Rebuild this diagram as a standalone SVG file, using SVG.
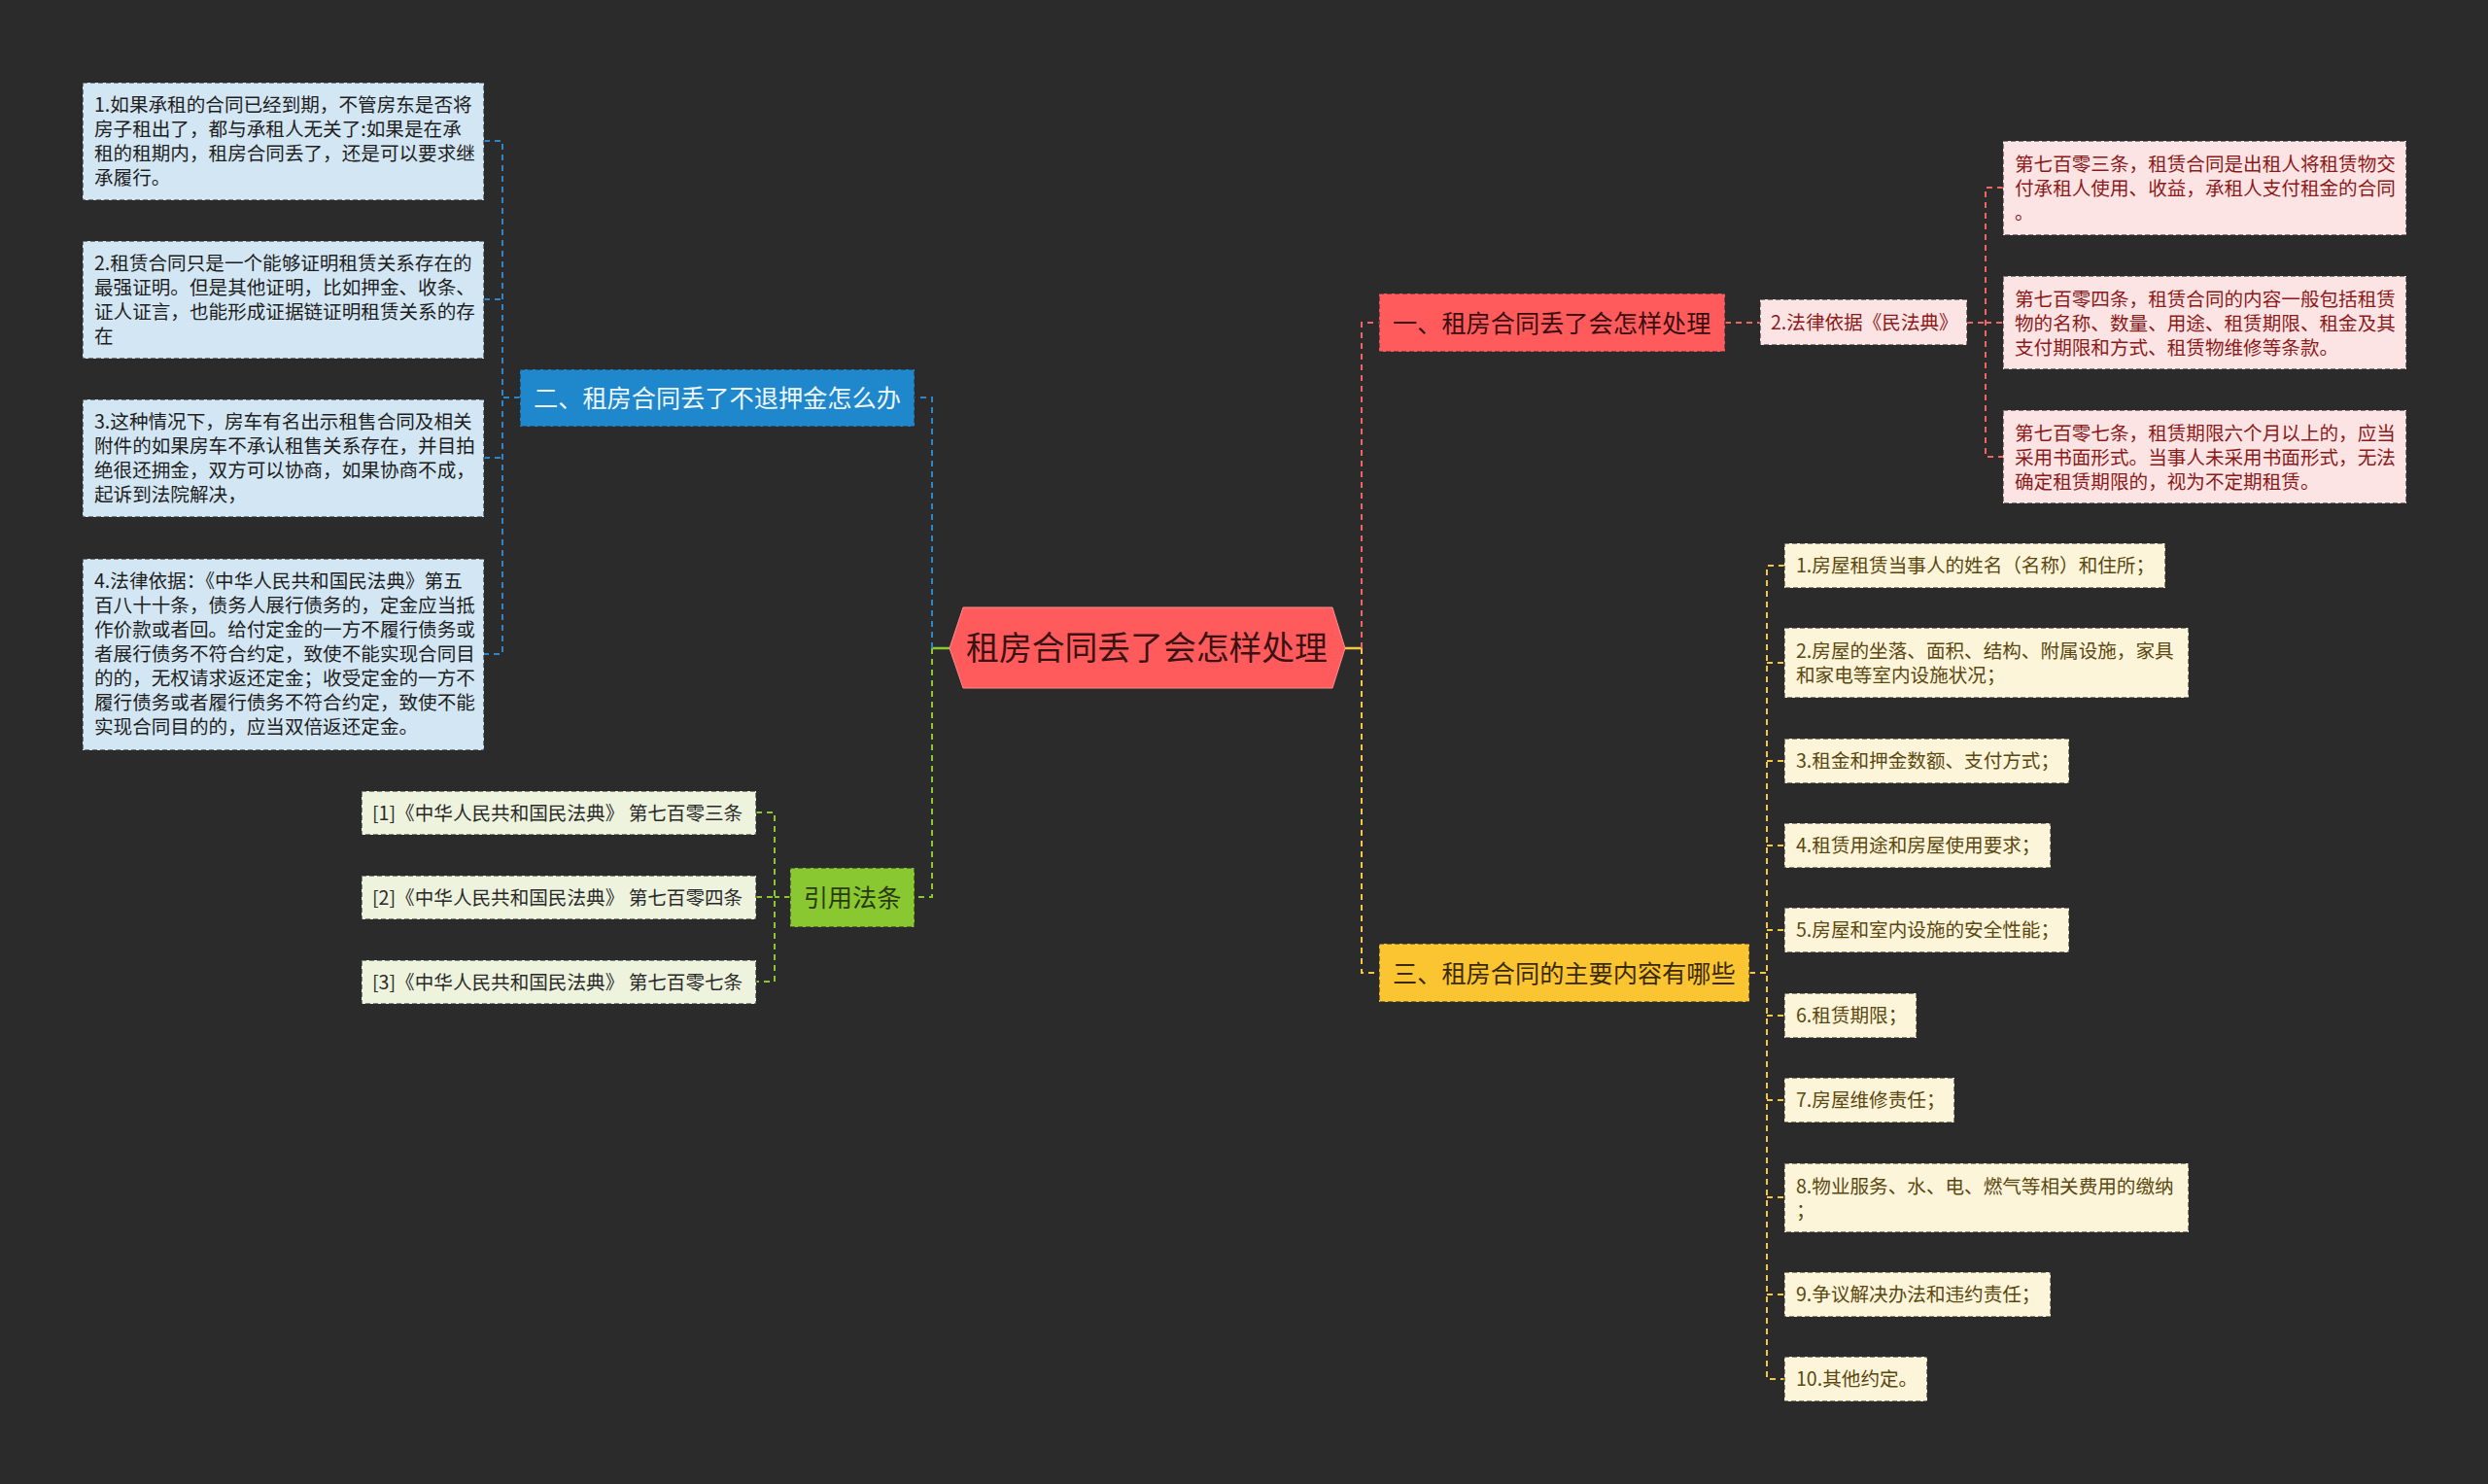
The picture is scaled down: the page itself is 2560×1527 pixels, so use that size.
<svg xmlns="http://www.w3.org/2000/svg" width="2560" height="1527" viewBox="0 0 2560 1527">
<style>
text{font-family:"Noto Sans CJK SC","Noto Sans",sans-serif;}
.s{font-size:19.6px;}
.m{font-size:25.2px;}
.c{font-size:33.8px;fill:#3a1212;}
.bd{stroke:#2b2b2b;stroke-opacity:0.75;stroke-width:1.5;stroke-dasharray:5 3;}
.blue{fill:#d3e6f3;} .tblue{fill:#1e1e1e;}
.grn{fill:#edf3dd;} .tgrn{fill:#2a2a2a;}
.pink{fill:#fde4e4;} .tpink{fill:#8b1a1a;}
.yel{fill:#fdf5da;} .tyel{fill:#5a4810;}
.cn{fill:none;stroke-width:2;stroke-dasharray:6 5;}
.cb{stroke:#2f86c6;} .cg{stroke:#8ac832;} .cr{stroke:#f06464;} .cy{stroke:#f5c842;}
</style>
<rect x="0" y="0" width="2560" height="1527" fill="#2b2b2b"/>

<g id="connectors">
  <line x1="959" y1="667" x2="977" y2="667" stroke="#8ac832" stroke-width="2.5"/>
  <line x1="1384" y1="667" x2="1401" y2="667" stroke="#f5c842" stroke-width="2.5"/>
  <path class="cn cb" d="M959,667 V409 H941"/>
  <path class="cn cb" d="M535,409 H517 M498,145 H517 V673 H498 M498,308 H517 M498,471 H517"/>
  <path class="cn cg" d="M959,667 V923 H941"/>
  <path class="cn cg" d="M813,923 H797 M778,836 H797 V1010 H778 M778,923 H797"/>
  <path class="cn cr" d="M1401,667 V332 H1419"/>
  <path class="cn cr" d="M1775,332 H1811 M2024,332 H2043 M2061,193 H2043 V470 H2061 M2043,332 H2061"/>
  <path class="cn cy" d="M1401,667 V1001 H1419"/>
  <path class="cn cy" d="M1800,1001 H1818 M1836,582 H1818 V1419 H1836 M1818,682 H1836 M1818,783 H1836 M1818,870 H1836 M1818,957 H1836 M1818,1045 H1836 M1818,1132 H1836 M1818,1232 H1836 M1818,1332 H1836"/>
</g>

<g id="center">
  <polygon points="977,667 991,625 1371,625 1384,667 1371,708 991,708" fill="#ff5b5d" stroke="#ff8c8c" stroke-width="1"/>
  <text class="c" x="1180" y="679" text-anchor="middle">租房合同丢了会怎样处理</text>
</g>

<g id="n2">
  <rect x="535" y="380" width="406" height="59" fill="#1f87cb" class="bd"/>
  <text class="m" x="549" y="419" fill="#eef6ff">二、租房合同丢了不退押金怎么办</text>
</g>
<g id="n2-1">
  <rect x="85" y="85" width="413" height="121" class="blue bd"/>
  <text class="s tblue" x="97"><tspan x="97" y="115">1.如果承租的合同已经到期，不管房东是否将</tspan><tspan x="97" y="140">房子租出了，都与承租人无关了:如果是在承</tspan><tspan x="97" y="165">租的租期内，租房合同丢了，还是可以要求继</tspan><tspan x="97" y="190">承履行。</tspan></text>
</g>
<g id="n2-2">
  <rect x="85" y="248" width="413" height="121" class="blue bd"/>
  <text class="s tblue"><tspan x="97" y="278">2.租赁合同只是一个能够证明租赁关系存在的</tspan><tspan x="97" y="303">最强证明。但是其他证明，比如押金、收条、</tspan><tspan x="97" y="328">证人证言，也能形成证据链证明租赁关系的存</tspan><tspan x="97" y="353">在</tspan></text>
</g>
<g id="n2-3">
  <rect x="85" y="411" width="413" height="121" class="blue bd"/>
  <text class="s tblue"><tspan x="97" y="441">3.这种情况下，房车有名出示租售合同及相关</tspan><tspan x="97" y="466">附件的如果房车不承认租售关系存在，并目拍</tspan><tspan x="97" y="491">绝很还拥金，双方可以协商，如果协商不成，</tspan><tspan x="97" y="516">起诉到法院解决，</tspan></text>
</g>
<g id="n2-4">
  <rect x="85" y="575" width="413" height="197" class="blue bd"/>
  <text class="s tblue"><tspan x="97" y="605">4.法律依据：《中华人民共和国民法典》第五</tspan><tspan x="97" y="630">百八十十条，债务人展行债务的，定金应当抵</tspan><tspan x="97" y="655">作价款或者回。给付定金的一方不履行债务或</tspan><tspan x="97" y="680">者展行债务不符合约定，致使不能实现合同目</tspan><tspan x="97" y="705">的的，无权请求返还定金；收受定金的一方不</tspan><tspan x="97" y="730">履行债务或者履行债务不符合约定，致使不能</tspan><tspan x="97" y="755">实现合同目的的，应当双倍返还定金。</tspan></text>
</g>

<g id="n4">
  <rect x="813" y="893" width="128" height="61" fill="#8ac832" class="bd"/>
  <text class="m" x="877" y="933" text-anchor="middle" fill="#2a3a10">引用法条</text>
</g>
<g id="n4-1">
  <rect x="372" y="814" width="406" height="45" class="grn bd"/>
  <text class="s tgrn" x="383" y="844">[1]《中华人民共和国民法典》 第七百零三条</text>
</g>
<g id="n4-2">
  <rect x="372" y="901" width="406" height="45" class="grn bd"/>
  <text class="s tgrn" x="383" y="931">[2]《中华人民共和国民法典》 第七百零四条</text>
</g>
<g id="n4-3">
  <rect x="372" y="988" width="406" height="45" class="grn bd"/>
  <text class="s tgrn" x="383" y="1018">[3]《中华人民共和国民法典》 第七百零七条</text>
</g>

<g id="n1">
  <rect x="1419" y="302" width="356" height="60" fill="#ff5b5d" class="bd"/>
  <text class="m" x="1433" y="342" fill="#3a0e0e">一、租房合同丢了会怎样处理</text>
</g>
<g id="n1-1">
  <rect x="1811" y="308" width="213" height="47" class="pink bd"/>
  <text class="s tpink" x="1822" y="339">2.法律依据《民法典》</text>
</g>
<g id="n1-1-1">
  <rect x="2061" y="145" width="415" height="97" class="pink bd"/>
  <text class="s tpink"><tspan x="2073" y="176">第七百零三条，租赁合同是出租人将租赁物交</tspan><tspan x="2073" y="201">付承租人使用、收益，承租人支付租金的合同</tspan><tspan x="2073" y="226">。</tspan></text>
</g>
<g id="n1-1-2">
  <rect x="2061" y="284" width="415" height="96" class="pink bd"/>
  <text class="s tpink"><tspan x="2073" y="315">第七百零四条，租赁合同的内容一般包括租赁</tspan><tspan x="2073" y="340">物的名称、数量、用途、租赁期限、租金及其</tspan><tspan x="2073" y="365">支付期限和方式、租赁物维修等条款。</tspan></text>
</g>
<g id="n1-1-3">
  <rect x="2061" y="422" width="415" height="96" class="pink bd"/>
  <text class="s tpink"><tspan x="2073" y="453">第七百零七条，租赁期限六个月以上的，应当</tspan><tspan x="2073" y="478">采用书面形式。当事人未采用书面形式，无法</tspan><tspan x="2073" y="503">确定租赁期限的，视为不定期租赁。</tspan></text>
</g>

<g id="n3">
  <rect x="1419" y="971" width="381" height="60" fill="#fbc532" class="bd"/>
  <text class="m" x="1433" y="1011" fill="#3a2a02">三、租房合同的主要内容有哪些</text>
</g>
<g id="n3-1"><rect x="1836" y="559" width="392" height="46" class="yel bd"/><text class="s tyel" x="1848" y="589">1.房屋租赁当事人的姓名（名称）和住所；</text></g>
<g id="n3-2"><rect x="1836" y="646" width="416" height="72" class="yel bd"/><text class="s tyel"><tspan x="1848" y="677">2.房屋的坐落、面积、结构、附属设施，家具</tspan><tspan x="1848" y="702">和家电等室内设施状况；</tspan></text></g>
<g id="n3-3"><rect x="1836" y="760" width="293" height="46" class="yel bd"/><text class="s tyel" x="1848" y="790">3.租金和押金数额、支付方式；</text></g>
<g id="n3-4"><rect x="1836" y="847" width="274" height="46" class="yel bd"/><text class="s tyel" x="1848" y="877">4.租赁用途和房屋使用要求；</text></g>
<g id="n3-5"><rect x="1836" y="934" width="293" height="46" class="yel bd"/><text class="s tyel" x="1848" y="964">5.房屋和室内设施的安全性能；</text></g>
<g id="n3-6"><rect x="1836" y="1022" width="136" height="46" class="yel bd"/><text class="s tyel" x="1848" y="1052">6.租赁期限；</text></g>
<g id="n3-7"><rect x="1836" y="1109" width="175" height="46" class="yel bd"/><text class="s tyel" x="1848" y="1139">7.房屋维修责任；</text></g>
<g id="n3-8"><rect x="1836" y="1197" width="416" height="71" class="yel bd"/><text class="s tyel"><tspan x="1848" y="1228">8.物业服务、水、电、燃气等相关费用的缴纳</tspan><tspan x="1848" y="1253">；</tspan></text></g>
<g id="n3-9"><rect x="1836" y="1309" width="274" height="46" class="yel bd"/><text class="s tyel" x="1848" y="1339">9.争议解决办法和违约责任；</text></g>
<g id="n3-10"><rect x="1836" y="1396" width="147" height="46" class="yel bd"/><text class="s tyel" x="1848" y="1426">10.其他约定。</text></g>
</svg>
